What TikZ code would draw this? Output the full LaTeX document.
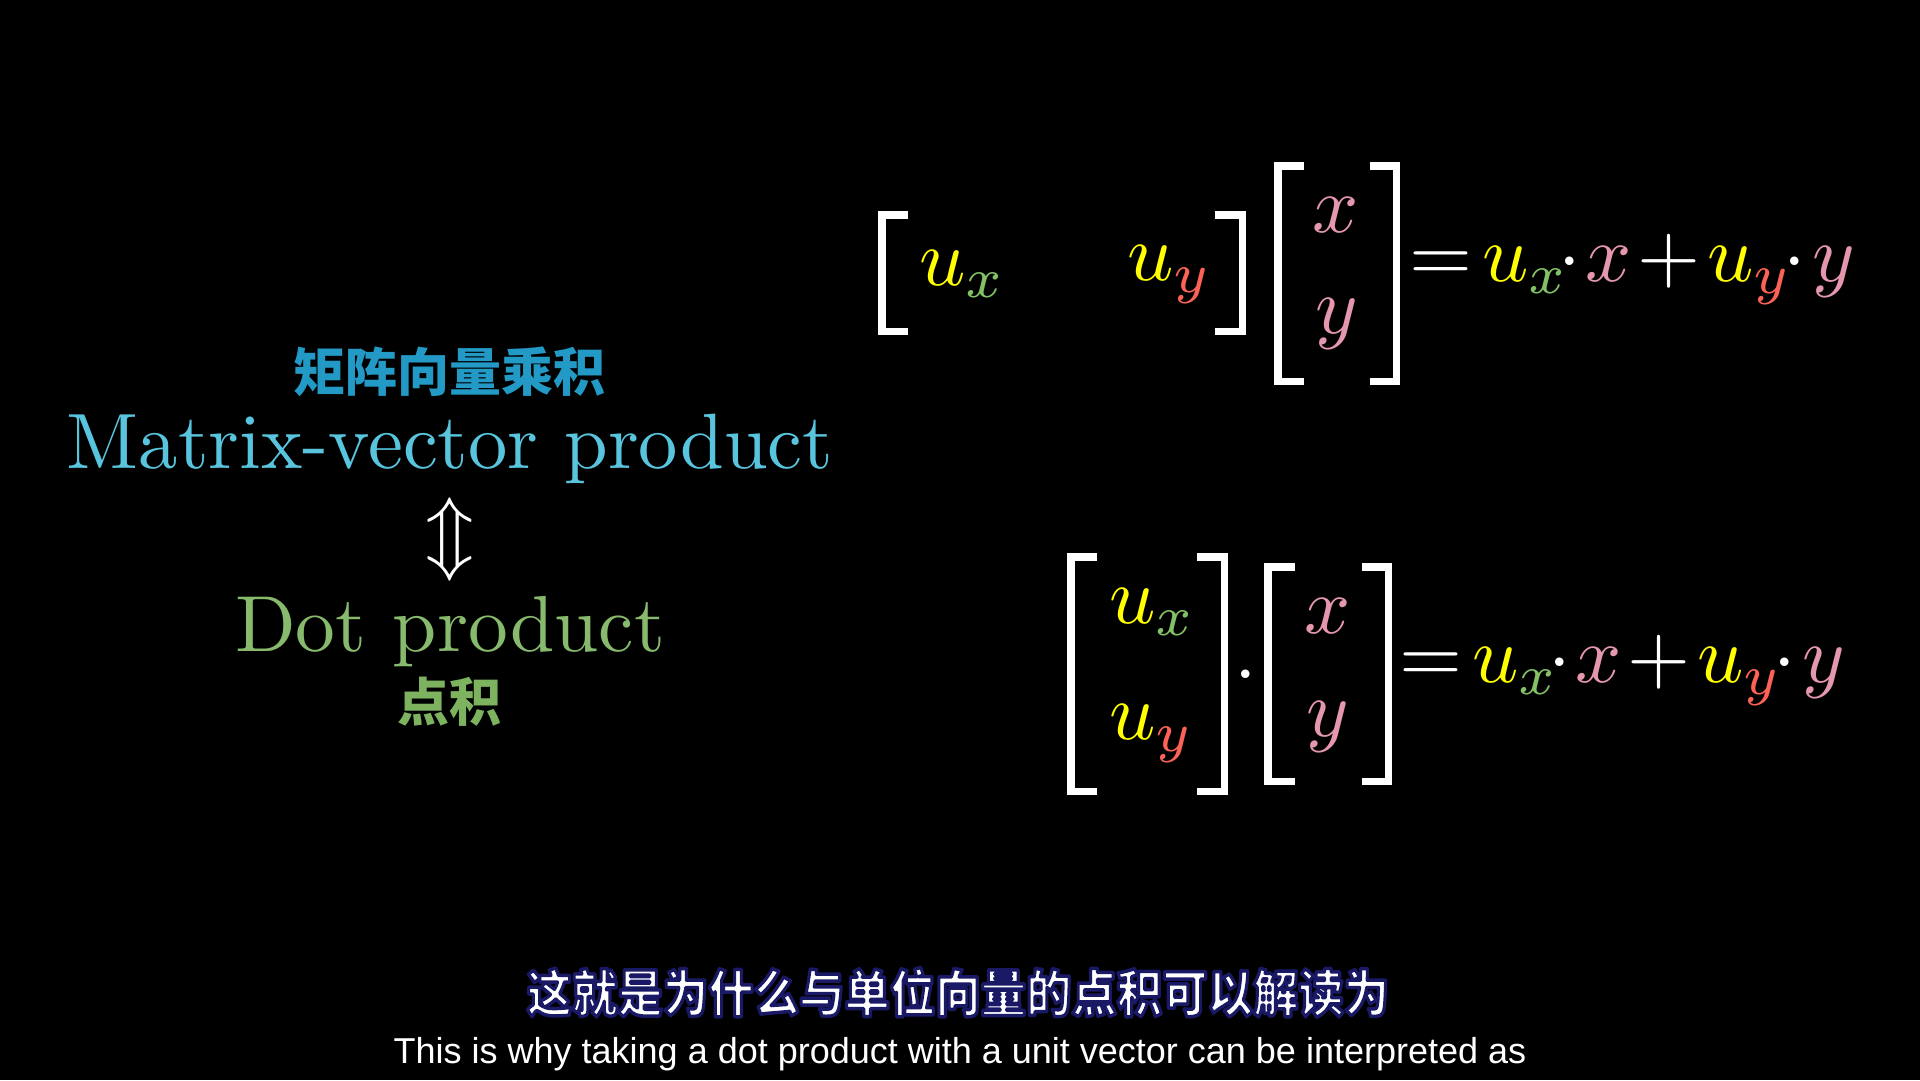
\documentclass[tikz,border=0pt]{standalone}
\usepackage{fontspec}
\usepackage{xcolor}
\newfontfamily\cjk{Noto Sans CJK SC}
\newfontfamily\subfont{Liberation Sans}
\definecolor{uy}{HTML}{FFFF00}
\definecolor{gx}{HTML}{83C167}
\definecolor{ry}{HTML}{FC6255}
\definecolor{pk}{HTML}{E597AE}
\definecolor{mvblue}{HTML}{58C4DD}
\definecolor{cjkblue}{HTML}{2399C6}
\definecolor{dotgreen}{HTML}{87BA6C}
\definecolor{cjkgreen}{HTML}{7DB35F}
\definecolor{navy}{HTML}{1A1A66}
\newcommand{\mth}[1]{\scalebox{8.1}{$#1$}}
\newcommand{\UX}{\color{uy}u_{\color{gx}x}}
\newcommand{\UY}{\color{uy}u_{\color{ry}y}}
\newcommand{\outlined}[1]{\special{pdf:literal direct 0.1 0.1 0.4 RG 3.5 w 1 j 2 Tr}#1\special{pdf:literal direct 0 Tr}}
\newcommand{\lbrk}[4]{\draw[brk] ({#1+#4},{#2+3.75}) -- ({#1+3.75},{#2+3.75}) -- ({#1+3.75},{#3-3.75}) -- ({#1+#4},{#3-3.75});}
\newcommand{\rbrk}[4]{\draw[brk] ({#1-#4},{#2+3.75}) -- ({#1-3.75},{#2+3.75}) -- ({#1-3.75},{#3-3.75}) -- ({#1-#4},{#3-3.75});}
\begin{document}
\begin{tikzpicture}[x=1pt,y=-1pt,
  brk/.style={draw=white,line width=7.5pt,line join=miter,line cap=butt},
  mb/.style={inner sep=0pt,outer sep=0pt,anchor=base west},
  mc/.style={inner sep=0pt,outer sep=0pt,anchor=base},
  lbl/.style={inner sep=0pt,outer sep=0pt,anchor=base}]
\path[fill=black] (0,0) rectangle (1920,1080);
\useasboundingbox (0,0) rectangle (1920,1080);

% ---- top: row vector times column vector
\lbrk{878}{211}{335}{30}
\rbrk{1246}{211}{335}{31}
\lbrk{1274}{162}{385}{30}
\rbrk{1400}{162}{385}{30}
\node[mb] (tux) at (919,285) {\mth{\UX}};
\node[mb] (tuy) at (1127,280) {\mth{\UY}};
\node[mc] (tx) at (1336,232) {\mth{\color{pk}x}};
\node[mc] (ty) at (1337,333) {\mth{\color{pk}y}};
\node[mc] (teq) at (1441,281) {\mth{\color{white}=}};
\node[mb] (tux2) at (1482,281) {\mth{\UX}};
\node[mc] (tdot1) at (1570,281) {\mth{\color{white}\cdot}};
\node[mc] (tx2) at (1609,281) {\mth{\color{pk}x}};
\node[mc] (tplus) at (1669,281) {\mth{\color{white}+}};
\node[mb] (tuy2) at (1707,281) {\mth{\UY}};
\node[mc] (tdot2) at (1795,281) {\mth{\color{white}\cdot}};
\node[mc] (ty2) at (1834,281) {\mth{\color{pk}y}};

% ---- bottom: dot product of two column vectors
\lbrk{1067}{553}{795}{30}
\rbrk{1228}{553}{795}{31}
\lbrk{1264}{563}{785}{31}
\rbrk{1392}{563}{785}{30}
\node[mb] (bux) at (1109,623) {\mth{\UX}};
\node[mb] (buy) at (1109,739) {\mth{\UY}};
\node[mc] (bdot) at (1246,694) {\mth{\color{white}\cdot}};
\node[mc] (bx) at (1328,633) {\mth{\color{pk}x}};
\node[mc] (by) at (1328,736) {\mth{\color{pk}y}};
\node[mc] (beq) at (1431,682) {\mth{\color{white}=}};
\node[mb] (bux2) at (1472,682) {\mth{\UX}};
\node[mc] (bdot1) at (1560,682) {\mth{\color{white}\cdot}};
\node[mc] (bx2) at (1599,682) {\mth{\color{pk}x}};
\node[mc] (bplus) at (1659,682) {\mth{\color{white}+}};
\node[mb] (buy2) at (1697,682) {\mth{\UY}};
\node[mc] (bdot2) at (1785,682) {\mth{\color{white}\cdot}};
\node[mc] (by2) at (1824,682) {\mth{\color{pk}y}};

% ---- left labels
\node[lbl,text=cjkblue] (mvzh) at (449,391) {\cjk\bfseries\fontsize{52}{52}\selectfont 矩阵向量乘积};
\node[lbl,text=mvblue] (mv) at (450,468) {\scalebox{7.85}{Matrix-vector product}};
\node[inner sep=0pt,text=white] (arr) at (450,539) {\scalebox{8}{$\Updownarrow$}};
\node[lbl,text=dotgreen] (dp) at (450,651) {\scalebox{7.95}{Dot product}};
\node[lbl,text=cjkgreen] (dpzh) at (449,721) {\cjk\bfseries\fontsize{52}{52}\selectfont 点积};

% ---- subtitles
\node[lbl,text=white] (subzh) at (958,1012) {\scalebox{0.89}[1]{\cjk\bfseries\fontsize{51}{51}\selectfont\outlined{这就是为什么与单位向量的点积可以解读为}}};
\node[lbl,text=white] (suben) at (960,1063) {\subfont\fontsize{36}{36}\selectfont This is why taking a dot product with a unit vector can be interpreted as};
\end{tikzpicture}
\end{document}
